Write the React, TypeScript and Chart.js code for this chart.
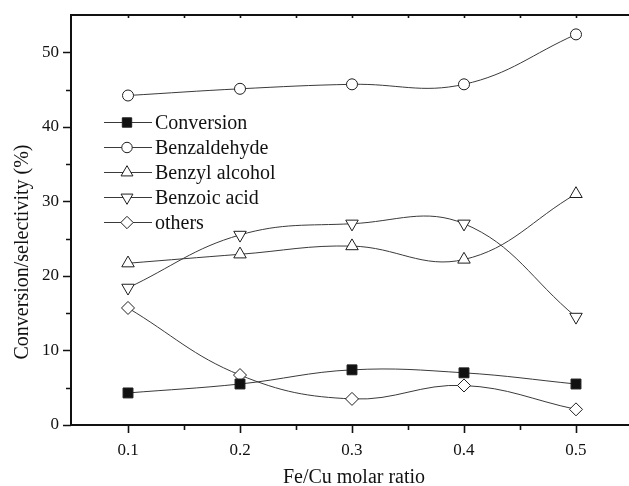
import React, { useEffect, useRef } from 'react';
import { Chart, registerables } from 'chart.js';
import { drawPoint } from 'chart.js/helpers';
Chart.register(...registerables);

const ratios = [0.1, 0.2, 0.3, 0.4, 0.5];
const conversion = [4.3, 5.5, 7.4, 7.0, 5.5];
const benzaldehyde = [44.2, 45.1, 45.7, 45.7, 52.4];
const benzylAlcohol = [21.7, 22.9, 24.0, 22.2, 31.0];
const benzoicAcid = [18.4, 25.5, 27.0, 27.0, 14.5];
const others = [15.7, 6.7, 3.5, 5.3, 2.1];

const seriesNames = ['Conversion', 'Benzaldehyde', 'Benzyl alcohol', 'Benzoic acid', 'others'];
const xTicks = [0.1, 0.2, 0.3, 0.4, 0.5];
const xMinorTicks = [0.15, 0.25, 0.35, 0.45];
const yTicks = [0, 10, 20, 30, 40, 50];
const yMinorTicks = [5, 15, 25, 35, 45];
const xTitle = 'Fe/Cu molar ratio';
const yTitle = 'Conversion/selectivity (%)';

const SERIF = '"Liberation Serif", "Times New Roman", serif';
const LINE = '#3a3a3a';
const MARK = '#1e1e1e';

const markers = [
  { pointStyle: 'rect', rotation: 0, radius: 7, fill: '#111' },
  { pointStyle: 'circle', rotation: 0, radius: 5.5, fill: '#fff' },
  { pointStyle: 'triangle', rotation: 0, radius: 7.2, fill: '#fff' },
  { pointStyle: 'triangle', rotation: 180, radius: 7.2, fill: '#fff' },
  { pointStyle: 'rectRot', rotation: 0, radius: 6.5, fill: '#fff' },
];

const framePlugin = {
  id: 'frame',
  beforeDatasetsDraw(chart: any) {
    const { ctx, chartArea } = chart;
    const xs = chart.scales.x;
    const ys = chart.scales.y;
    const { left, top, bottom } = chartArea;
    ctx.save();
    ctx.strokeStyle = '#111';
    ctx.lineWidth = 2;
    ctx.beginPath();
    ctx.moveTo(left, top - 1);
    ctx.lineTo(left, bottom + 1);
    ctx.moveTo(left - 1, bottom);
    ctx.lineTo(chart.width, bottom);
    ctx.moveTo(left - 1, top);
    ctx.lineTo(chart.width, top);
    ctx.stroke();
    ctx.lineWidth = 1.6;
    ctx.beginPath();
    xTicks.forEach((v) => {
      const px = Math.round(xs.getPixelForValue(v)) + 0.5;
      ctx.moveTo(px, bottom);
      ctx.lineTo(px, bottom + 8);
      ctx.moveTo(px, top);
      ctx.lineTo(px, top + 3);
    });
    xMinorTicks.forEach((v) => {
      const px = Math.round(xs.getPixelForValue(v)) + 0.5;
      ctx.moveTo(px, bottom);
      ctx.lineTo(px, bottom + 5);
      ctx.moveTo(px, top);
      ctx.lineTo(px, top + 3);
    });
    yTicks.forEach((v) => {
      const py = Math.round(ys.getPixelForValue(v)) + 0.5;
      ctx.moveTo(left, py);
      ctx.lineTo(left - 8, py);
    });
    yMinorTicks.forEach((v) => {
      const py = Math.round(ys.getPixelForValue(v)) + 0.5;
      ctx.moveTo(left, py);
      ctx.lineTo(left - 5, py);
    });
    ctx.stroke();

    ctx.fillStyle = '#111';
    ctx.font = `20px ${SERIF}`;
    ctx.textAlign = 'center';
    ctx.textBaseline = 'alphabetic';
    ctx.fillText(xTitle, 354, 483);
    ctx.save();
    ctx.translate(28, 252);
    ctx.rotate(-Math.PI / 2);
    ctx.fillText(yTitle, 0, 0);
    ctx.restore();
    ctx.restore();
  },
  afterDatasetsDraw(chart: any) {
    const { ctx } = chart;
    ctx.save();
    seriesNames.forEach((name, i) => {
      const y = 122 + 25 * i;
      ctx.strokeStyle = LINE;
      ctx.lineWidth = 1;
      ctx.beginPath();
      ctx.moveTo(104, y + 0.5);
      ctx.lineTo(152, y + 0.5);
      ctx.stroke();
      const m = markers[i];
      ctx.fillStyle = m.fill;
      ctx.strokeStyle = MARK;
      ctx.lineWidth = 1;
      drawPoint(ctx, { pointStyle: m.pointStyle, rotation: m.rotation, radius: m.radius * 0.95, borderWidth: 1 } as any, 127, y + 0.5);
      ctx.fillStyle = '#111';
      ctx.font = `20px ${SERIF}`;
      ctx.textAlign = 'left';
      ctx.textBaseline = 'alphabetic';
      ctx.fillText(name, 155, y + 7);
    });
    ctx.restore();
  },
};

export default function App() {
  const ref = useRef<HTMLCanvasElement | null>(null);
  useEffect(() => {
    document.body.style.margin = '0';
    const canvas = ref.current!;
    const allSeries = [conversion, benzaldehyde, benzylAlcohol, benzoicAcid, others];
    const chart = new Chart(canvas, {
      type: 'line',
      data: {
        datasets: allSeries.map((vals, i) => ({
          label: seriesNames[i],
          data: ratios.map((x, j) => ({ x, y: vals[j] })),
          borderColor: LINE,
          borderWidth: 1,
          tension: 0.4,
          fill: false,
          pointStyle: markers[i].pointStyle as any,
          rotation: markers[i].rotation,
          pointRadius: markers[i].radius,
          pointHoverRadius: markers[i].radius,
          pointBackgroundColor: markers[i].fill,
          pointBorderColor: MARK,
          pointBorderWidth: 1,
        })),
      },
      options: {
        animation: false,
        responsive: false,
        devicePixelRatio: 1,
        layout: { padding: { top: 15, right: 10, left: 0, bottom: 0 } },
        plugins: { legend: { display: false }, tooltip: { enabled: false } },
        scales: {
          x: {
            type: 'linear',
            min: 0.0491,
            max: 0.5384,
            grid: { display: false, drawTicks: false },
            border: { display: false },
            afterFit: (s: any) => {
              s.height = 61;
              s.paddingLeft = 0;
              s.paddingRight = 0;
              s.paddingTop = 0;
              s.paddingBottom = 0;
            },
            afterBuildTicks: (s: any) => { s.ticks = xTicks.map((v) => ({ value: v })); },
            ticks: {
              padding: 15,
              color: '#111',
              font: { family: SERIF, size: 17 },
              callback: (v: any) => Number(v).toFixed(1),
              maxRotation: 0,
              autoSkip: false,
            },
          },
          y: {
            type: 'linear',
            min: 0,
            max: 55,
            grid: { display: false, drawTicks: false },
            border: { display: false },
            afterFit: (s: any) => {
              s.width = 71;
              s.paddingTop = 0;
              s.paddingBottom = 0;
              s.paddingLeft = 0;
              s.paddingRight = 0;
            },
            afterBuildTicks: (s: any) => { s.ticks = yTicks.map((v) => ({ value: v })); },
            ticks: {
              padding: 12,
              color: '#111',
              font: { family: SERIF, size: 17 },
              autoSkip: false,
            },
          },
        },
      },
      plugins: [framePlugin],
    });
    return () => chart.destroy();
  }, []);
  return (
    <div style={{ width: 629, height: 486, overflow: 'hidden' }}>
      <canvas ref={ref} width={629} height={486} style={{ display: 'block' }} />
    </div>
  );
}
